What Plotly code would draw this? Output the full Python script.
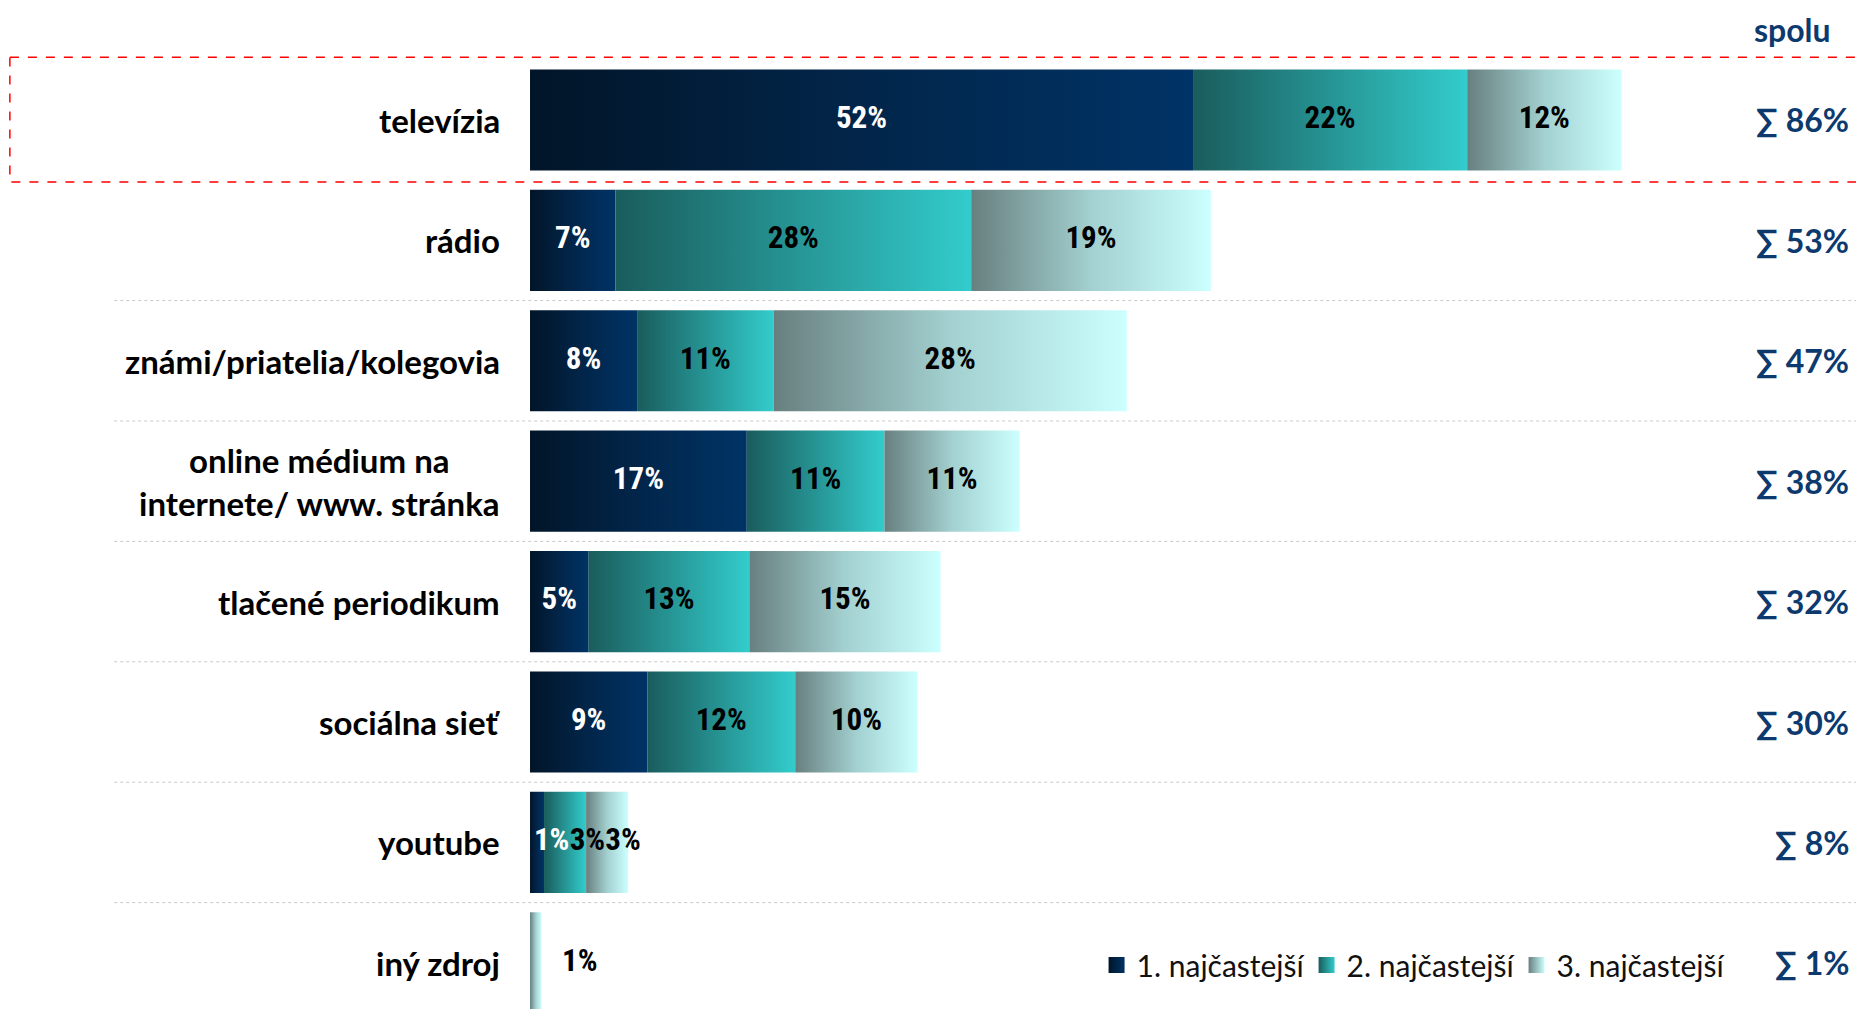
import plotly.graph_objects as go

categories = ["televízia", "rádio", "známi/priatelia/kolegovia",
              "online médium na<br>internete/ www. stránka", "tlačené periodikum",
              "sociálna sieť", "youtube", "iný zdroj"]
series_names = ["1. najčastejší", "2. najčastejší", "3. najčastejší"]
first_most = [52.0, 6.7, 8.4, 17.0, 4.6, 9.2, 1.1, 0.0]
second_most = [21.5, 27.9, 10.7, 10.8, 12.6, 11.6, 3.3, 0.0]
third_most = [12.1, 18.8, 27.7, 10.6, 15.0, 9.6, 3.3, 0.9]
total_header = "spolu"

series_values = [first_most, second_most, third_most]
gradients = [
    [[0, "#011528"], [0.45, "#022447"], [1, "#003366"]],
    [[0, "#1a5c5c"], [1, "#33cccc"]],
    [[0, "#687f7f"], [0.5, "#a3d0d0"], [1, "#ccffff"]],
]
label_colors = ["white", "black", "black"]
sum_color = "#0d3a6e"

fig = go.Figure()
half = 0.42
label_x, label_y, label_t, label_c = [], [], [], []
for i in range(len(categories)):
    last_lx = None
    for s, vals in enumerate(series_values):
        v = vals[i]
        if v <= 0:
            continue
        base = sum(series_values[k][i] for k in range(s))
        x0, x1 = base, base + v
        y0, y1 = i - half, i + half
        fig.add_trace(go.Scatter(
            x=[x0, x1, x1, x0, x0], y=[y0, y0, y1, y1, y0],
            mode="lines", fill="toself", line=dict(width=0),
            fillgradient=dict(type="horizontal", colorscale=gradients[s]),
            name=series_names[s], legendgroup=series_names[s],
            showlegend=False, hoverinfo="text",
            text=f"{categories[i]}: {round(v)}%"))
        if v < 1:
            lx = x1 + 3.0
            c = "black"
        else:
            lx = max(base + v / 2, 1.7 if last_lx is None else last_lx + 2.8)
            c = label_colors[s]
        last_lx = lx
        label_x.append(lx)
        label_y.append(i)
        label_t.append(f"{round(v)}%")
        label_c.append(c)

# legend entries (gradient squares)
for s, name in enumerate(series_names):
    fig.add_trace(go.Scatter(
        x=[None], y=[None], mode="markers", name=name, legendgroup=name,
        marker=dict(symbol="square", size=17, color=gradients[s][0][1],
                    gradient=dict(type="horizontal", color=gradients[s][-1][1]),
                    line=dict(width=0)),
        showlegend=True))

fig.add_trace(go.Scatter(
    x=label_x, y=label_y, text=label_t, mode="text",
    textfont=dict(family="Liberation Sans Narrow, Roboto Condensed, Arial Narrow, Roboto",
                  size=31, color=label_c, weight="bold"),
    showlegend=False, hoverinfo="skip"))

annotations = []
for i, cat in enumerate(categories):
    annotations.append(dict(
        x=-2.2, y=i, xref="x", yref="y", text=cat, showarrow=False,
        xanchor="right", yanchor="middle", align="center",
        font=dict(family="Lato", size=33, color="black", weight="bold")))
    total = round(sum(sv[i] for sv in series_values))
    annotations.append(dict(
        x=103.6, y=i, xref="x", yref="y", text=f"∑ {total}%", showarrow=False,
        xanchor="right", yanchor="middle",
        font=dict(family="Lato", size=32, color=sum_color, weight="bold")))
annotations.append(dict(
    x=99.0, y=-0.75, xref="x", yref="y", text=total_header, showarrow=False,
    xanchor="center", yanchor="middle",
    font=dict(family="Lato", size=32, color=sum_color, weight="bold")))

shapes = []
for i in range(1, len(categories) - 1):
    shapes.append(dict(type="line", xref="paper", yref="y", x0=0.057, x1=1,
                       y0=i + 0.5, y1=i + 0.5,
                       line=dict(color="#c8c8c8", width=1, dash="dot")))
shapes.append(dict(type="rect", xref="paper", yref="y", x0=0.001, x1=0.994,
                   y0=-0.52, y1=0.515,
                   line=dict(color="#ff0000", width=1.5, dash="dash")))

fig.update_layout(
    width=1864, height=1009,
    margin=dict(l=0, r=0, t=0, b=0),
    paper_bgcolor="white", plot_bgcolor="white",
    xaxis=dict(range=[-40.94, 105.25], visible=False, fixedrange=True),
    yaxis=dict(range=[7.45, -0.93], visible=False, fixedrange=True),
    showlegend=True,
    legend=dict(orientation="h", x=0.584, y=0.0515, xanchor="left", yanchor="middle",
                font=dict(family="Lato", size=30, color="#111111"),
                entrywidth=165, bgcolor="rgba(0,0,0,0)"),
    annotations=annotations, shapes=shapes,
)

fig.write_html("out.html")
